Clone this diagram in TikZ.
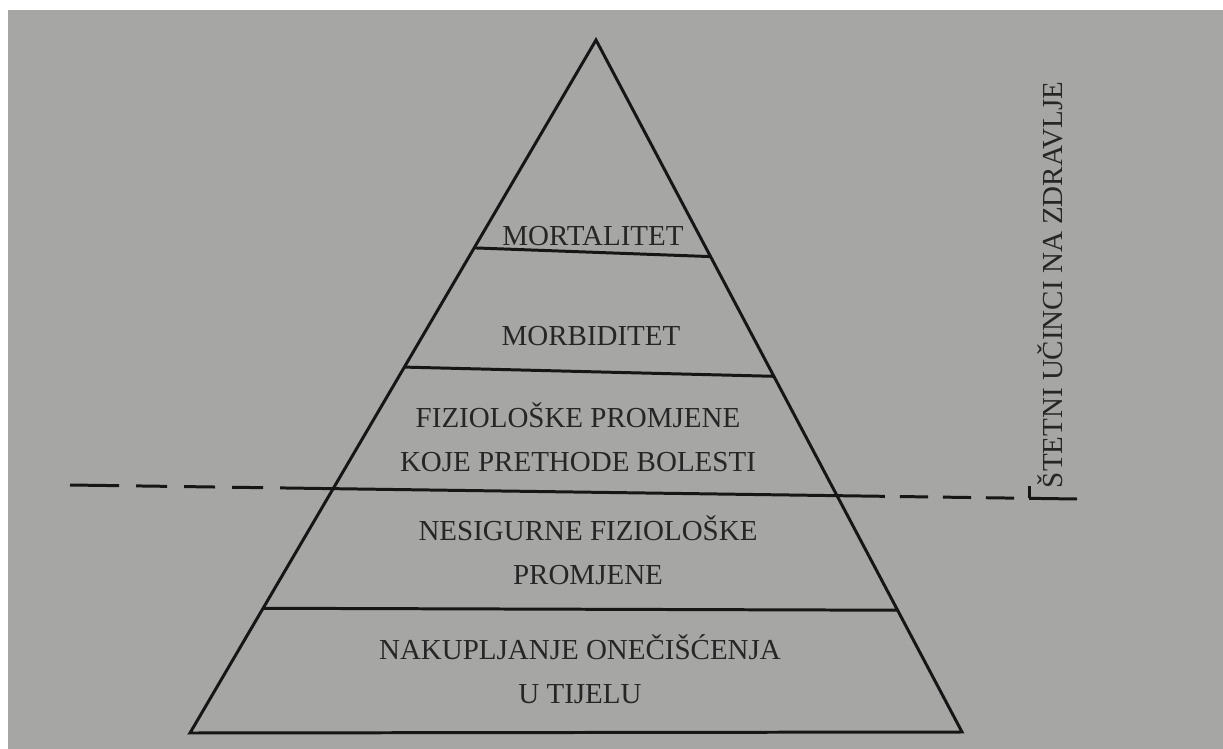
\documentclass[tikz,border=0pt]{standalone}
\usepackage{fontspec}
\setmainfont{Liberation Serif}
\usepackage{tikz}
\usetikzlibrary{calc}
\definecolor{paper}{RGB}{166,166,164}
\definecolor{ink}{RGB}{22,22,22}
\definecolor{print}{RGB}{38,38,38}

\begin{document}
\begin{tikzpicture}[
  x=0.02cm,y=-0.02cm,
  font=\fontsize{16.5}{25}\selectfont,
  edge/.style={draw=ink,line width=1.7pt},
  level/.style={align=center,text=print,inner sep=0pt},
  lefttrail/.style={edge,dash pattern=on 28pt off 9.7pt on 17.6pt off 9.7pt on 17.6pt off 9.7pt on 17.6pt off 9.7pt},
  righttrail/.style={edge,dash pattern=on 16pt off 8.5pt,dash phase=16pt}
]
  \fill[white] (0,0) rectangle (1223,749);
  \fill[paper] (8,10) rectangle (1223,749);
  \useasboundingbox (0,0) rectangle (1223,749);

  \coordinate (apex) at (596,40);
  \coordinate (bl) at (190,733);
  \coordinate (br) at (962,732);
  \draw[edge,line join=miter] (bl) -- (apex) -- (br) -- cycle;

  % storeys of the pyramid
  \draw[edge] ($(apex)!0.300!(bl)$) -- ($(apex)!0.313!(br)$);
  \draw[edge] ($(apex)!0.472!(bl)$) -- ($(apex)!0.486!(br)$);
  \draw[edge] ($(apex)!0.820!(bl)$) -- ($(apex)!0.824!(br)$);

  % threshold line
  \coordinate (cutL) at (70,485);
  \coordinate (cutR) at (1077,499);
  \coordinate (tick) at ($(cutL)!0.9533!(cutR)$);
  \draw[lefttrail] (cutL) -- ($(cutL)!0.2105!(cutR)$);
  \draw[edge] ($(cutL)!0.2105!(cutR)$) -- ($(cutL)!0.8093!(cutR)$);
  \draw[righttrail] ($(cutL)!0.8093!(cutR)$) -- (tick);
  \draw[edge] (tick) -- (cutR);
  \draw[edge] (tick) -- ++(0,-12);

  \node[level] (mortalitet) at (593,236) {MORTALITET};
  \node[level] (morbiditet) at (591,336) {MORBIDITET};
  \node[level] (prebolest) at (578,437) {FIZIOLOŠKE PROMJENE\\KOJE PRETHODE BOLESTI};
  \node[level] (nesigurne) at (588,550) {NESIGURNE FIZIOLOŠKE\\PROMJENE};
  \node[level] (nakupljanje) at (580,669) {NAKUPLJANJE ONEČIŠĆENJA\\U TIJELU};

  \node[level,rotate=90] (ucinci) at (1050,285) {ŠTETNI UČINCI NA ZDRAVLJE};
\end{tikzpicture}
\end{document}
